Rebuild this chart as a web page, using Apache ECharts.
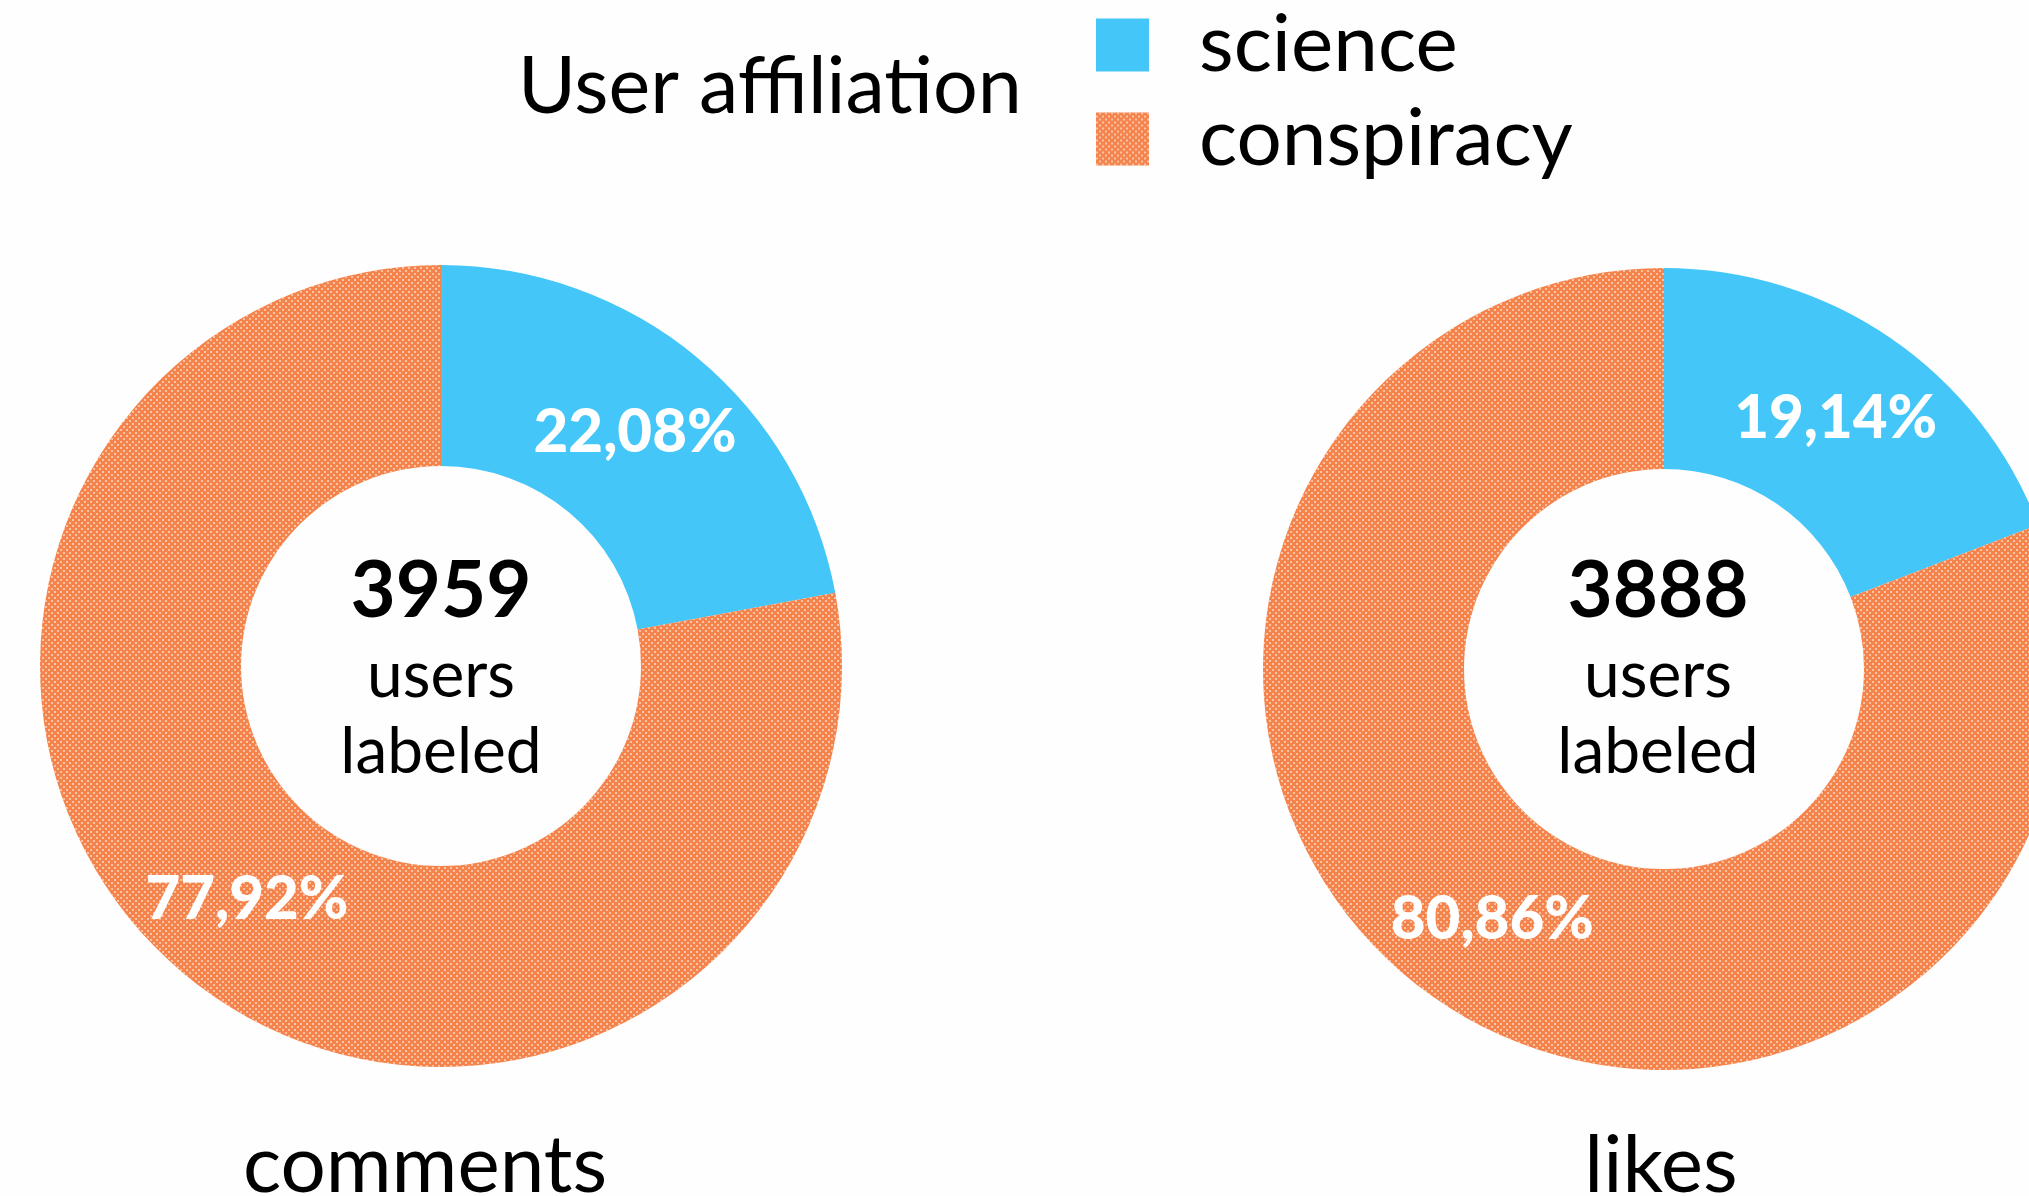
<!DOCTYPE html>
<html>
<head>
<meta charset="utf-8">
<title>User affiliation</title>
<script src="https://cdn.jsdelivr.net/npm/echarts@6/dist/echarts.min.js"></script>
<style>
  html, body { margin: 0; padding: 0; background: #fefefe; }
  #chart { width: 2029px; height: 1196px; }
</style>
</head>
<body>
<div id="chart"></div>
<script>
  // data
  var categories = ['science', 'conspiracy']
  var panels = ['comments', 'likes']
  var totals = [3959, 3888]
  var commentsShare = [22.08, 77.92]
  var likesShare = [19.14, 80.86]

  var BLUE = '#44c7f8'
  var ORANGE = '#f4844c'
  var FONT = 'Lato'

  // white dot texture on the conspiracy slices
  var dots = {
    symbol: 'circle',
    symbolSize: 1,
    color: 'rgba(255,238,228,0.8)',
    dashArrayX: [[2, 4], [0, 3, 2, 1]],
    dashArrayY: [2, 1]
  }

  function pieData(shares) {
    return categories.map(function (name, i) {
      return {
        name: name,
        value: shares[i],
        itemStyle: i === 1 ? { color: ORANGE, decal: dots } : { color: BLUE }
      }
    })
  }

  function pieSeries(name, shares, center) {
    return {
      name: name,
      type: 'pie',
      center: center,
      radius: [200, 401],
      startAngle: 90,
      silent: true,
      animation: false,
      label: {
        show: true,
        position: 'inside',
        color: '#fff',
        fontFamily: FONT,
        fontWeight: 900,
        fontSize: 60,
        formatter: function (p) {
          return p.value.toFixed(2).replace('.', ',') + '%'
        }
      },
      labelLine: { show: false },
      emphasis: { disabled: true },
      data: pieData(shares)
    }
  }

  function centerText(x, total) {
    return [
      { type: 'text', x: x, y: 592, style: { text: String(total), fill: '#000', font: 'bold 78px ' + FONT, align: 'center', verticalAlign: 'middle' } },
      { type: 'text', x: x, y: 708, style: { text: 'users', fill: '#000', font: '64px ' + FONT, align: 'center', verticalAlign: 'bottom' } },
      { type: 'text', x: x, y: 784, style: { text: 'labeled', fill: '#000', font: '64px ' + FONT, align: 'center', verticalAlign: 'bottom' } }
    ]
  }

  var chart = echarts.init(document.getElementById('chart'))
  chart.setOption({
    backgroundColor: '#fefefe',
    animation: false,
    legend: {
      data: categories,
      orient: 'vertical',
      left: 1091,
      top: 0,
      icon: 'rect',
      itemWidth: 53,
      itemHeight: 53,
      itemGap: 14,
      selectedMode: false,
      textStyle: {
        fontFamily: FONT,
        fontSize: 80,
        color: '#000',
        lineHeight: 53,
        padding: [0, 0, 0, 45]
      }
    },
    graphic: [
      { type: 'text', x: 518, y: 127, style: { text: 'User affiliation', fill: '#000', font: '79px ' + FONT, verticalAlign: 'bottom' } },
      { type: 'text', x: 425, y: 1206, style: { text: panels[0], fill: '#000', font: '80px ' + FONT, align: 'center', verticalAlign: 'bottom' } },
      { type: 'text', x: 1661, y: 1206, style: { text: panels[1], fill: '#000', font: '80px ' + FONT, align: 'center', verticalAlign: 'bottom' } }
    ].concat(centerText(441, totals[0]), centerText(1658, totals[1])),
    series: [
      pieSeries(panels[0], commentsShare, [441, 666]),
      pieSeries(panels[1], likesShare, [1664, 669])
    ]
  })
</script>
</body>
</html>
